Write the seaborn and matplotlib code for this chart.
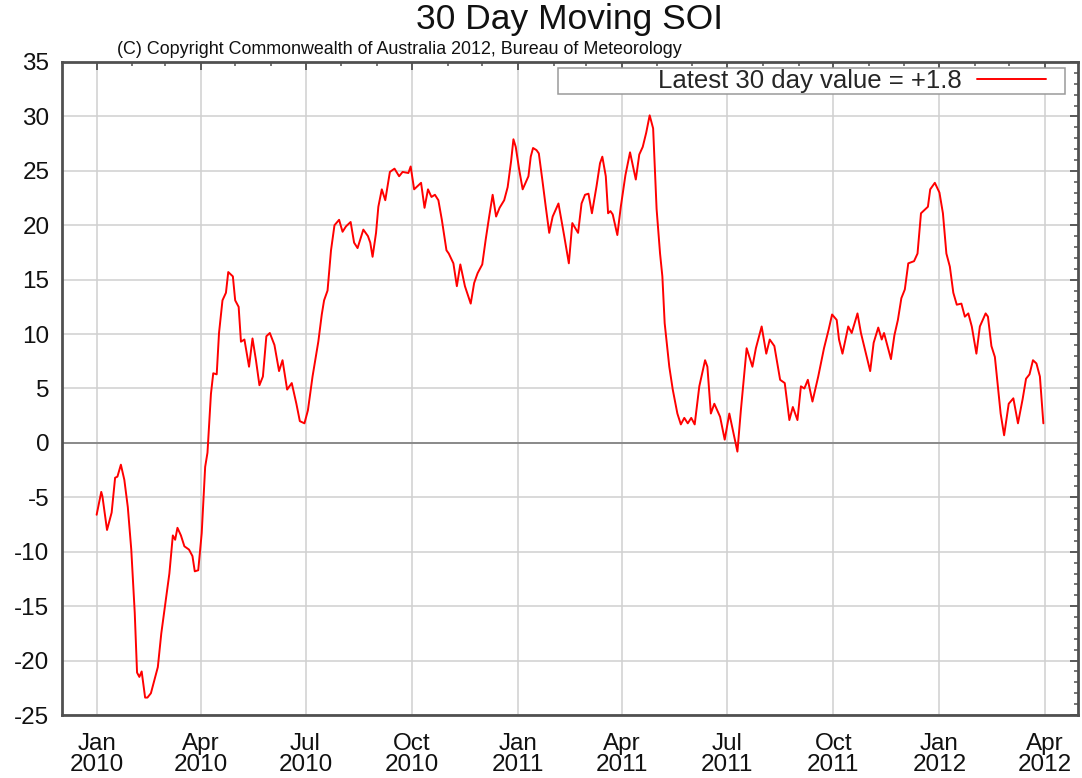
import numpy as np
import pandas as pd
import seaborn as sns
import matplotlib.pyplot as plt
import matplotlib.dates as mdates
from matplotlib.patches import Rectangle

# days since 2010-01-01 and the 30 day moving SOI
day_offsets = [0, 4, 5, 9, 13, 16, 18, 21, 24, 27, 30, 33, 35, 37, 39, 42, 44, 47, 53, 56,
               60, 63, 66, 68, 70, 73, 76, 80, 83, 85, 88, 91, 94, 96, 99, 101, 104, 106, 109, 112,
               114, 118, 120, 123, 125, 128, 132, 135, 138, 141, 144, 147, 150, 154, 158, 161, 165, 169, 173, 176,
               180, 183, 187, 192, 195, 197, 200, 203, 206, 210, 213, 216, 220, 223, 226, 231, 235, 237, 239, 242,
               244, 247, 250, 254, 258, 262, 265, 270, 272, 275, 278, 281, 284, 287, 290, 293, 296, 299, 303, 305,
               309, 312, 315, 319, 324, 327, 330, 334, 337, 340, 343, 346, 349, 353, 356, 359, 361, 363, 366, 369,
               374, 376, 378, 381, 383, 386, 389, 392, 395, 400, 402, 405, 409, 412, 417, 420, 423, 426, 429, 433,
               436, 438, 441, 443, 445, 447, 451, 454, 458, 462, 464, 467, 470, 473, 476, 479, 482, 485, 488, 490,
               492, 496, 499, 503, 506, 509, 512, 515, 518, 522, 527, 529, 532, 535, 540, 544, 548, 551, 555, 558,
               563, 568, 571, 576, 580, 583, 587, 592, 596, 600, 603, 607, 610, 613, 616, 620, 625, 630, 634, 637,
               641, 643, 646, 651, 654, 659, 662, 667, 670, 673, 677, 680, 682, 688, 691, 694, 697, 700, 703, 708,
               711, 714, 717, 720, 722, 726, 730, 733, 736, 739, 742, 745, 749, 752, 755, 758, 762, 765, 770, 772,
               775, 778, 780, 783, 786, 790, 794, 798, 802, 805, 808, 811, 814, 817, 820]
soi = [-6.6, -4.5, -4.9, -8.0, -6.4, -3.2, -3.1, -2.0, -3.4, -5.9, -9.8, -15.6, -21.1, -21.5, -21.0, -23.4, -23.4, -23.0, -20.6, -17.5,
       -14.4, -12.0, -8.5, -8.9, -7.8, -8.5, -9.5, -9.8, -10.4, -11.8, -11.7, -8.3, -2.2, -0.9, 4.5, 6.4, 6.3, 10.1, 13.1, 13.8,
       15.7, 15.3, 13.1, 12.5, 9.3, 9.5, 7.0, 9.6, 7.6, 5.3, 6.1, 9.8, 10.1, 9.0, 6.6, 7.6, 4.9, 5.5, 3.6, 2.0,
       1.8, 3.0, 6.1, 9.3, 11.8, 13.1, 14.0, 17.7, 20.0, 20.5, 19.4, 19.9, 20.3, 18.4, 17.9, 19.6, 19.0, 18.4, 17.1, 19.3,
       21.7, 23.3, 22.3, 24.9, 25.2, 24.5, 24.9, 24.8, 25.4, 23.3, 23.6, 23.9, 21.6, 23.3, 22.6, 22.8, 22.3, 20.5, 17.7, 17.4,
       16.5, 14.4, 16.4, 14.4, 12.8, 14.7, 15.6, 16.4, 18.7, 20.8, 22.8, 20.8, 21.6, 22.3, 23.5, 25.9, 27.9, 27.2, 25.1, 23.3,
       24.5, 26.3, 27.1, 26.9, 26.6, 24.2, 21.7, 19.3, 20.8, 22.0, 20.8, 19.0, 16.5, 20.2, 19.3, 22.0, 22.8, 22.9, 21.1, 23.6,
       25.7, 26.3, 24.5, 21.1, 21.3, 21.0, 19.1, 21.7, 24.6, 26.7, 25.7, 24.2, 26.5, 27.2, 28.5, 30.1, 28.9, 21.5, 17.4, 15.3,
       11.0, 7.0, 4.9, 2.7, 1.7, 2.3, 1.8, 2.3, 1.7, 5.2, 7.6, 7.0, 2.7, 3.6, 2.4, 0.3, 2.7, 1.2, -0.8, 3.0,
       8.7, 7.0, 8.7, 10.7, 8.2, 9.5, 8.9, 5.8, 5.5, 2.1, 3.3, 2.1, 5.2, 5.0, 5.8, 3.8, 6.1, 8.7, 10.4, 11.8,
       11.3, 9.5, 8.2, 10.7, 10.1, 11.9, 10.1, 7.9, 6.6, 9.2, 10.6, 9.5, 10.1, 7.7, 9.9, 11.3, 13.3, 14.1, 16.5, 16.7,
       17.4, 21.1, 21.4, 21.7, 23.3, 23.9, 23.0, 21.1, 17.4, 16.2, 13.8, 12.7, 12.8, 11.6, 11.9, 10.7, 8.2, 10.7, 11.9, 11.6,
       8.9, 7.9, 5.8, 2.7, 0.7, 3.6, 4.1, 1.8, 4.0, 5.9, 6.3, 7.6, 7.3, 6.1, 1.8]

start_date = "2010-01-01"
x_limits = ["2009-12-02", "2012-04-30"]
y_limits = [-25, 35]
legend_label = "Latest 30 day value = +1.8"

df = pd.DataFrame({
    "date": pd.Timestamp(start_date) + pd.to_timedelta(day_offsets, unit="D"),
    "soi": soi,
})

sns.set_style("white")
plt.rcParams['font.family'] = ['Liberation Sans', 'DejaVu Sans']
plt.rcParams['axes.unicode_minus'] = False

fig = plt.figure(figsize=(10.82, 7.78), dpi=100)
ax = fig.add_axes([62 / 1082, 63 / 778, 1016 / 1082, 653 / 778])

sns.lineplot(data=df, x="date", y="soi", color="#ff0000", linewidth=1.4,
             label=legend_label, ax=ax)

ax.set_xlim(pd.Timestamp(x_limits[0]), pd.Timestamp(x_limits[1]))
ax.set_ylim(*y_limits)
ax.set_xlabel("")
ax.set_ylabel("")

ax.xaxis.set_major_locator(mdates.MonthLocator(bymonth=[1, 4, 7, 10]))
ax.xaxis.set_minor_locator(mdates.MonthLocator())
ax.xaxis.set_major_formatter(mdates.DateFormatter("%b\n%Y"))
ax.set_yticks(np.arange(-25, 36, 5))
ax.set_yticks(np.arange(-25, 36, 1), minor=True)

ax.grid(True, which="major", color="#d0d0d0", linewidth=1.1)
ax.axhline(0, color="#8a8a8a", linewidth=1.4, zorder=1)

for s in ax.spines.values():
    s.set_color("#505050")
    s.set_linewidth(2)

ax.tick_params(which="both", direction="in", top=True, right=True,
               colors="#505050", labelcolor="#111111")
ax.tick_params(which="major", length=6, width=1.3, labelsize=17.5)
ax.tick_params(axis="x", which="major", pad=13)
ax.tick_params(axis="y", which="major", pad=9)
ax.tick_params(which="minor", length=3, width=1.1)
for lab in ax.get_xticklabels():
    lab.set_linespacing(0.95)

# legend box is wider than its content, so draw the frame separately
ax.add_patch(Rectangle((0.488, 0.951), 0.499, 0.040, transform=ax.transAxes,
                       facecolor="white", edgecolor="#9a9a9a", linewidth=1.1,
                       zorder=4.5, clip_on=False))
leg = ax.legend(loc="upper right", bbox_to_anchor=(0.970, 0.991), borderaxespad=0,
                markerfirst=False, handlelength=2.7, handletextpad=0.6, fontsize=18.5,
                frameon=False, borderpad=0.05)

fig.text(570 / 1082, 1 - 20 / 778, "30 Day Moving SOI", ha="center", va="center",
         fontsize=25.5, color="#111111")
fig.text(117 / 1082, 1 - 50 / 778,
         "(C) Copyright Commonwealth of Australia 2012, Bureau of Meteorology",
         ha="left", va="center", fontsize=12.9, color="#111111")

fig.savefig("out.png", dpi=100, facecolor="white")
